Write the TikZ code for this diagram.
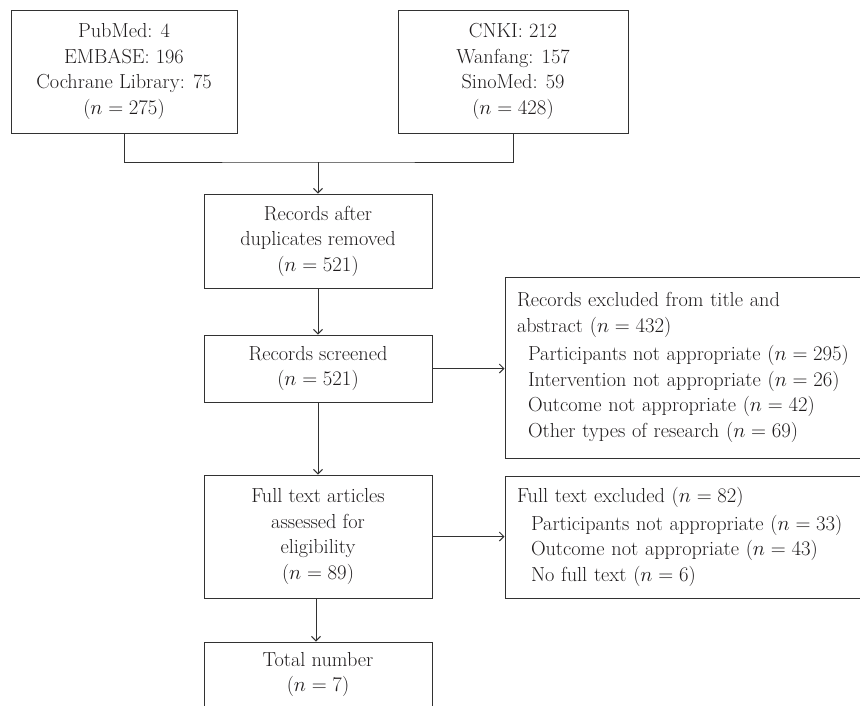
\documentclass[tikz,border=0pt]{standalone}
\usetikzlibrary{arrows.meta}
\definecolor{linec}{RGB}{50,50,50}
\definecolor{txtc}{RGB}{30,27,28}
\begin{document}
\begin{tikzpicture}[x=1pt,y=-1pt,
  box/.style={draw=linec, line width=1pt, inner sep=0pt, align=center, text=txtc,
    font=\fontsize{20.3}{25.5}\selectfont},
  lbox/.style={box, align=left, inner xsep=12pt, text width=346pt, minimum width=370pt},
  conn/.style={draw=linec, line width=1pt},
  arr/.style={conn, -{Straight Barb[length=4.5pt,width=9pt]}}]
\useasboundingbox (0,0) rectangle (860,705);
\clip (0,0) rectangle (860,705);
\node[box, minimum width=226pt, minimum height=123pt] (a) at (124,71.5)
  {PubMed: 4\\EMBASE: 196\\Cochrane Library: 75\\($n = 275$)};
\node[box, minimum width=230pt, minimum height=123pt] (b) at (513,71.5)
  {CNKI: 212\\Wanfang: 157\\SinoMed: 59\\($n = 428$)};
\node[box, minimum width=228pt, minimum height=94pt] (c) at (318,241)
  {Records after\\duplicates removed\\($n = 521$)};
\node[box, minimum width=228pt, minimum height=67pt] (d) at (318,368.5)
  {Records screened\\($n = 521$)};
\node[box, minimum width=228pt, minimum height=123pt] (g) at (318,536.5)
  {Full text articles\\assessed for\\eligibility\\($n = 89$)};
\node[box, minimum width=228pt, minimum height=65pt] (h) at (318,674.5)
  {Total number\\($n = 7$)};
\node[lbox, minimum height=181pt] (e) at (690,367.5)
  {Records excluded from title and\\abstract ($n = 432$)\\[3pt]
   \hspace*{11pt}Participants not appropriate ($n = 295$)\\
   \hspace*{11pt}Intervention not appropriate ($n = 26$)\\
   \hspace*{11pt}Outcome not appropriate ($n = 42$)\\
   \hspace*{11pt}Other types of research ($n = 69$)};
\node[lbox, minimum height=122pt] (f) at (690,537)
  {Full text excluded ($n = 82$)\\[2pt]
   \hspace*{14pt}Participants not appropriate ($n = 33$)\\
   \hspace*{14pt}Outcome not appropriate ($n = 43$)\\
   \hspace*{14pt}No full text ($n = 6$)};
\coordinate (m) at (318,162);
\draw[conn] (a.south) |- (m) -| (b.south);
\draw[arr] (m) -- (c.north);
\draw[arr] (c.south) -- (d.north);
\draw[arr] (d.east) -- (d.east -| e.west);
\draw[arr] (d.south) -- (g.north);
\draw[arr] (g.east) -- (g.east -| f.west);
\draw[arr] ([xshift=-2pt]g.south) -- ([xshift=-2pt]h.north);
\end{tikzpicture}
\end{document}
